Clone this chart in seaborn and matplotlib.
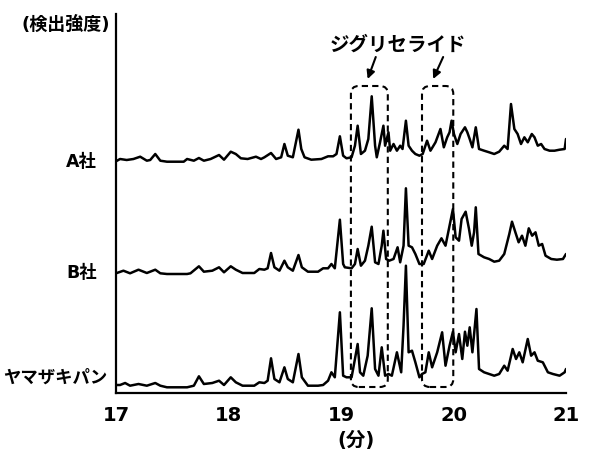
import numpy as np
import pandas as pd
import seaborn as sns
import matplotlib
matplotlib.use('Agg')
from matplotlib import pyplot as plt
from matplotlib.patches import FancyBboxPatch

# chromatogram traces: retention time (min) and signal height
a_time = [17.00, 17.036, 17.095, 17.155, 17.215, 17.274, 17.304, 17.349, 17.394, 17.453,
          17.602, 17.632, 17.692, 17.737, 17.781, 17.841, 17.916, 17.960, 18.020, 18.065,
          18.110, 18.170, 18.244, 18.289, 18.319, 18.378, 18.423, 18.468, 18.497, 18.527,
          18.572, 18.622, 18.647, 18.676, 18.736, 18.826, 18.885, 18.930, 18.960,
          18.990, 19.019, 19.049, 19.094, 19.124, 19.148, 19.177, 19.213, 19.243, 19.273,
          19.303, 19.318, 19.347, 19.377, 19.392, 19.422, 19.437, 19.467, 19.497, 19.526,
          19.547, 19.577, 19.601, 19.631, 19.661, 19.697, 19.726, 19.765, 19.795, 19.840,
          19.884, 19.914, 19.944, 19.965, 19.983, 20.004, 20.034, 20.063, 20.102, 20.123,
          20.144, 20.168, 20.198, 20.227, 20.272, 20.317, 20.362, 20.406, 20.451, 20.481,
          20.511, 20.541, 20.570, 20.600, 20.630, 20.660, 20.696, 20.720, 20.749, 20.779,
          20.809, 20.854, 20.898, 20.943, 20.988, 21.00]
a_signal = [-0.3, 2.0, 1.0, 2.0, 4.3, 0.3, 1.0, 7.0, 0.3, -0.7,
            -0.7, 2.0, 0.3, 3.0, 0.3, 2.0, 6.0, 1.3, 9.3, 7.0,
            2.7, 2.0, 4.3, 2.0, 3.7, 8.0, 2.0, 3.7, 17.0, 5.3,
            3.7, 31.3, 12.0, 3.7, 1.3, 2.0, 4.7, 4.7, 7.0,
            24.7, 5.3, 2.7, 3.7, 15.3, 35.3, 7.0, 10.3, 22.0, 64.7,
            15.3, 3.7, 18.7, 35.3, 15.3, 28.7, 10.3, 17.0, 10.3, 15.3,
            12.0, 40.3, 15.3, 10.3, 7.0, 5.3, 7.0, 20.3, 10.3, 18.7,
            32.0, 13.7, 23.7, 28.7, 40.3, 27.0, 17.0, 27.0, 33.7, 28.7,
            22.0, 13.7, 33.7, 12.0, 10.3, 8.7, 7.0, 9.3, 15.3, 12.0,
            57.0, 32.0, 27.0, 17.0, 23.7, 18.7, 27.0, 23.7, 15.3, 17.0,
            12.0, 10.3, 10.3, 11.3, 12.0, 22.0]

b_time = [17.00, 17.066, 17.125, 17.200, 17.274, 17.349, 17.394, 17.453, 17.632, 17.662,
          17.737, 17.781, 17.856, 17.916, 17.960, 18.020, 18.065, 18.125, 18.229, 18.274,
          18.319, 18.348, 18.378, 18.408, 18.453, 18.497, 18.527, 18.572, 18.622, 18.652,
          18.706, 18.796, 18.841, 18.885, 18.915, 18.945,
          18.990, 19.019, 19.034, 19.094, 19.124, 19.148, 19.177, 19.213, 19.243, 19.273,
          19.303, 19.333, 19.362, 19.377, 19.401, 19.428, 19.467, 19.503, 19.526, 19.556,
          19.577, 19.601, 19.631, 19.661, 19.697, 19.735, 19.780, 19.810, 19.855, 19.893,
          19.929, 19.959, 19.995, 20.019, 20.049, 20.072, 20.108, 20.138, 20.162, 20.183,
          20.198, 20.222, 20.272, 20.317, 20.362, 20.406, 20.451, 20.496, 20.520, 20.550,
          20.579, 20.609, 20.639, 20.669, 20.699, 20.729, 20.758, 20.788, 20.818, 20.869,
          20.919, 20.973, 21.00]
b_signal = [0.7, 3.3, 0.7, 4.3, 1.0, 4.3, 0.7, 0.0, 0.0, 0.7,
            7.7, 2.3, 3.3, 6.7, 1.7, 7.7, 4.3, 1.0, 1.0, 5.0,
            4.3, 5.7, 21.0, 6.7, 3.3, 13.3, 6.7, 3.3, 19.0, 6.7,
            2.3, 2.3, 5.7, 5.7, 10.0, 5.7,
            54.3, 10.0, 6.7, 5.7, 10.0, 25.0, 8.3, 13.3, 28.3, 47.3,
            11.7, 10.0, 28.3, 43.3, 15.0, 13.3, 15.0, 26.7, 11.7, 28.3,
            85.7, 28.3, 26.7, 20.0, 10.0, 10.0, 23.3, 15.0, 28.3, 35.7,
            28.3, 45.0, 65.0, 36.7, 33.3, 55.0, 62.3, 45.0, 28.3, 41.7,
            66.7, 20.0, 16.7, 15.0, 12.3, 13.3, 20.0, 40.0, 52.3, 41.7,
            31.7, 38.3, 28.3, 45.7, 38.3, 41.7, 28.3, 30.0, 18.3, 15.0,
            14.3, 15.0, 20.0]

y_time = [17.00, 17.036, 17.081, 17.125, 17.200, 17.274, 17.349, 17.394, 17.453, 17.632,
          17.692, 17.737, 17.781, 17.856, 17.916, 17.960, 18.020, 18.065, 18.125, 18.229,
          18.274, 18.319, 18.348, 18.378, 18.408, 18.453, 18.497, 18.527, 18.572, 18.622,
          18.652, 18.706, 18.796, 18.841, 18.885, 18.915, 18.945,
          18.990, 19.019, 19.049, 19.094, 19.124, 19.148, 19.169, 19.198, 19.237, 19.273,
          19.303, 19.333, 19.362, 19.392, 19.422, 19.452, 19.497, 19.535, 19.556, 19.577,
          19.601, 19.631, 19.661, 19.697, 19.720, 19.750, 19.780, 19.810, 19.855, 19.899,
          19.929, 19.965, 19.995, 20.019, 20.049, 20.078, 20.102, 20.123, 20.144, 20.168,
          20.204, 20.227, 20.272, 20.317, 20.362, 20.406, 20.451, 20.481, 20.526, 20.556,
          20.585, 20.615, 20.660, 20.690, 20.720, 20.749, 20.794, 20.839, 20.884, 20.943,
          20.988, 21.00]
y_signal = [0.0, 0.0, 2.0, -0.7, 1.0, -0.7, 2.0, -0.7, -2.3, -2.3,
            -0.7, 8.7, 1.0, 2.0, 4.3, 0.0, 7.7, 2.7, -0.7, -0.7,
            2.7, 2.0, 4.3, 26.7, 6.0, 2.7, 17.7, 6.0, 2.7, 31.0,
            7.7, -0.7, -0.7, 0.0, 4.3, 12.7, 7.7,
            72.7, 9.3, 7.7, 7.7, 26.0, 41.0, 12.7, 9.3, 29.3, 76.7,
            16.0, 9.3, 37.7, 9.3, 11.0, 9.3, 32.7, 12.7, 59.3, 119.3,
            32.7, 34.3, 22.7, 7.7, 11.0, 12.7, 32.7, 17.7, 32.7, 52.7,
            19.3, 39.3, 53.3, 32.7, 51.0, 26.0, 53.3, 39.3, 57.7, 32.7,
            76.0, 16.0, 12.7, 11.0, 9.3, 11.0, 19.3, 14.3, 36.0, 26.0,
            32.7, 22.7, 46.0, 29.3, 32.7, 24.3, 22.7, 12.7, 11.0, 9.3,
            12.7, 16.0]

samples = ['A社', 'B社', 'ヤマザキパン']
offsets = [232, 119, 8]
label_x = [16.83, 16.83, 16.92]
label_y = [232, 121, 16]

# diglyceride regions (min)
regions = [(19.088, 19.416), (19.72, 19.998)]

sns.set_style('white')
plt.rcParams['font.family'] = ['DejaVu Sans', 'Noto Sans CJK JP']
plt.rcParams['font.weight'] = 'bold'
plt.rcParams['text.color'] = 'black'
plt.rcParams['axes.labelcolor'] = 'black'
plt.rcParams['xtick.color'] = 'black'

fig = plt.figure(figsize=(5.96, 4.6), dpi=100)
ax = fig.add_axes([116 / 596, 66 / 460, 450 / 596, 379 / 460])

traces = [(a_time, a_signal), (b_time, b_signal), (y_time, y_signal)]
for (t, s), off in zip(traces, offsets):
    sns.lineplot(x=np.array(t), y=np.array(s) + off, ax=ax, color='black',
                 lw=1.8, sort=False, estimator=None)

ax.set_xlim(17, 21)
ax.set_ylim(0, 379)
ax.set_xticks([17, 18, 19, 20, 21])
ax.set_yticks([])
ax.tick_params(axis='x', length=0, pad=9, labelsize=14, labelcolor='black')
for lab in ax.get_xticklabels():
    lab.set_fontweight('bold')
sns.despine(ax=ax)
for side in ['left', 'bottom']:
    ax.spines[side].set_color('black')
    ax.spines[side].set_linewidth(1.6)

ax.set_xlabel('(分)', fontsize=14, fontweight='bold', color='black')
ax.xaxis.set_label_coords((356 - 116) / 450, -37 / 379)
ax.set_ylabel('')

for name, lx, ly in zip(samples, label_x, label_y):
    ax.text(lx, ly, name, ha='right', va='center', fontsize=12.5,
            fontweight='bold', color='black', clip_on=False)
ax.text(16.95, 369, '(検出強度)', ha='right', va='center', fontsize=13,
        fontweight='bold', color='black', clip_on=False)

for x0, x1 in regions:
    box = FancyBboxPatch((x0, 6), x1 - x0, 301,
                         boxstyle='round,pad=0,rounding_size=0.07',
                         mutation_aspect=111.75, fill=False, edgecolor='black',
                         lw=1.5, linestyle=(0, (3, 2)))
    ax.add_patch(box)

ax.text(19.506, 349, 'ジグリセライド', ha='center', va='center', fontsize=14,
        fontweight='bold', color='black')
ax.annotate('', xy=(19.237, 314), xytext=(19.309, 336),
            arrowprops=dict(arrowstyle='-|>', color='black', lw=1.5,
                            mutation_scale=12, shrinkA=0, shrinkB=0))
ax.annotate('', xy=(19.819, 314), xytext=(19.908, 336),
            arrowprops=dict(arrowstyle='-|>', color='black', lw=1.5,
                            mutation_scale=12, shrinkA=0, shrinkB=0))

plt.savefig('out.png', dpi=100)
